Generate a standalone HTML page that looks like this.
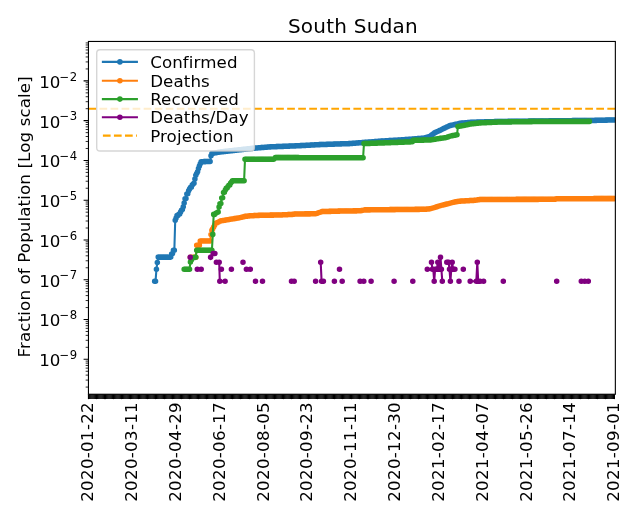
<!DOCTYPE html><html><head><meta charset="utf-8"><style>html,body{margin:0;padding:0;background:#fff;width:640px;height:520px;overflow:hidden}svg{display:block}text{font-family:"DejaVu Sans","Liberation Sans",sans-serif}</style></head><body><svg width="640" height="520" viewBox="0 0 640 520"><defs><clipPath id="c"><rect x="88.45" y="41.46" width="526.9" height="352.79"/></clipPath></defs><rect width="640" height="520" fill="#fff"/><g clip-path="url(#c)"><path d="M154.65 281.3 155.54 281.3 156.44 269.2 157.33 262.5 158.23 257.1 159.12 257.1 160.02 257.1 160.91 257.1 161.8 257.1 162.7 257.1 163.59 257.1 164.49 257.1 165.38 257.1 166.28 257.1 167.17 257.1 168.07 257.1 168.96 257.1 169.86 257.1 170.75 257.1 171.64 254 172.54 253.5 173.43 250.3 174.33 250.3 175.22 220.3 176.12 218 177.01 215.6 177.91 215.4 178.8 214.2 179.7 214 180.59 212 181.48 210.2 182.38 209.5 183.27 206.8 184.17 203 185.06 198.7 185.96 198.5 186.85 194 187.75 193.8 188.64 190.7 189.54 189 190.43 187.5 191.33 187.3 192.22 185 193.11 184 194.01 183.3 194.9 179 195.8 175.2 196.69 173.5 197.59 171.8 198.48 168.5 199.38 166 200.27 163.7 201.17 161.7 202.06 161.68 202.95 161.66 203.85 161.64 204.74 161.62 205.64 161.6 206.53 161.58 207.43 161.56 208.32 161.54 209.22 161.52 210.11 161.5 211.01 155.8 211.9 153.5 212.79 153.33 213.69 153.17 214.58 153 215.48 152.83 216.37 152.67 217.27 152.5 218.16 152.33 219.06 152.17 219.95 152 220.85 151.9 221.74 151.8 222.64 151.7 223.53 151.6 224.42 151.5 225.32 151.4 226.21 151.3 227.11 151.2 228 151.1 228.9 151 229.79 150.9 230.69 150.8 231.58 150.7 232.48 150.6 233.37 150.5 234.26 150.4 235.16 150.3 236.05 150.2 236.95 150.1 237.84 150 238.74 149.9 239.63 149.8 240.53 149.7 241.42 149.6 242.32 149.5 243.21 149.4 244.1 149.3 245 149.2 245.89 149.1 246.79 149 247.68 148.9 248.58 148.8 249.47 148.7 250.37 148.6 251.26 148.5 252.16 148.4 253.05 148.3 253.94 148.2 254.84 148.13 255.73 148.06 256.63 147.98 257.52 147.91 258.42 147.84 259.31 147.77 260.21 147.69 261.1 147.62 262 147.55 262.89 147.48 263.79 147.41 264.68 147.33 265.57 147.26 266.47 147.19 267.36 147.12 268.26 147.04 269.15 146.97 270.05 146.9 270.94 146.86 271.84 146.83 272.73 146.79 273.63 146.75 274.52 146.72 275.41 146.68 276.31 146.65 277.2 146.61 278.1 146.57 278.99 146.54 279.89 146.5 280.78 146.46 281.68 146.43 282.57 146.39 283.47 146.35 284.36 146.32 285.25 146.28 286.15 146.25 287.04 146.21 287.94 146.17 288.83 146.14 289.73 146.1 290.62 146.06 291.52 146.03 292.41 145.99 293.31 145.95 294.2 145.92 295.09 145.88 295.99 145.85 296.88 145.81 297.78 145.77 298.67 145.74 299.57 145.7 300.46 145.65 301.36 145.6 302.25 145.56 303.15 145.51 304.04 145.46 304.94 145.41 305.83 145.37 306.72 145.32 307.62 145.27 308.51 145.22 309.41 145.17 310.3 145.13 311.2 145.08 312.09 145.03 312.99 144.98 313.88 144.93 314.78 144.89 315.67 144.84 316.56 144.79 317.46 144.74 318.35 144.7 319.25 144.65 320.14 144.6 321.04 144.57 321.93 144.54 322.83 144.51 323.72 144.48 324.62 144.45 325.51 144.42 326.4 144.39 327.3 144.36 328.19 144.33 329.09 144.3 329.98 144.27 330.88 144.24 331.77 144.21 332.67 144.18 333.56 144.15 334.46 144.12 335.35 144.08 336.25 144.05 337.14 144.02 338.03 143.99 338.93 143.96 339.82 143.93 340.72 143.9 341.61 143.87 342.51 143.84 343.4 143.81 344.3 143.78 345.19 143.75 346.09 143.72 346.98 143.69 347.87 143.66 348.77 143.63 349.66 143.6 350.56 143.53 351.45 143.46 352.35 143.39 353.24 143.32 354.14 143.25 355.03 143.18 355.93 143.11 356.82 143.04 357.71 142.96 358.61 142.89 359.5 142.82 360.4 142.75 361.29 142.68 362.19 142.61 363.08 142.54 363.98 142.47 364.87 142.4 365.77 142.33 366.66 142.26 367.55 142.19 368.45 142.12 369.34 142.05 370.24 141.98 371.13 141.91 372.03 141.84 372.92 141.76 373.82 141.69 374.71 141.62 375.61 141.55 376.5 141.48 377.4 141.41 378.29 141.34 379.18 141.27 380.08 141.2 380.97 141.15 381.87 141.09 382.76 141.04 383.66 140.98 384.55 140.93 385.45 140.87 386.34 140.82 387.24 140.76 388.13 140.71 389.02 140.65 389.92 140.6 390.81 140.55 391.71 140.49 392.6 140.44 393.5 140.38 394.39 140.33 395.29 140.27 396.18 140.22 397.08 140.16 397.97 140.11 398.86 140.05 399.76 140 400.65 139.94 401.55 139.87 402.44 139.81 403.34 139.74 404.23 139.68 405.13 139.61 406.02 139.55 406.92 139.49 407.81 139.42 408.71 139.36 409.6 139.29 410.49 139.23 411.39 139.16 412.28 139.1 413.18 139.02 414.07 138.95 414.97 138.87 415.86 138.79 416.76 138.72 417.65 138.64 418.55 138.56 419.44 138.48 420.33 138.41 421.23 138.33 422.12 138.25 423.02 138.18 423.91 138.1 424.81 137.84 425.7 137.59 426.6 137.33 427.49 137.07 428.39 136.81 429.28 136.56 430.17 136.3 431.07 135.6 431.96 134.9 432.86 134.2 433.75 133.5 434.65 132.8 435.54 132.4 436.44 132 437.33 131.6 438.23 131.2 439.12 130.8 440.01 130.4 440.91 129.95 441.8 129.5 442.7 129.05 443.59 128.6 444.49 128.15 445.38 127.7 446.28 127.28 447.17 126.86 448.07 126.44 448.96 126.02 449.86 125.6 450.75 125.4 451.64 125.2 452.54 125 453.43 124.8 454.33 124.6 455.22 124.4 456.12 124.18 457.01 123.96 457.91 123.74 458.8 123.52 459.7 123.3 460.59 123.22 461.48 123.15 462.38 123.08 463.27 123 464.17 122.93 465.06 122.85 465.96 122.78 466.85 122.7 467.75 122.62 468.64 122.55 469.54 122.48 470.43 122.4 471.32 122.36 472.22 122.33 473.11 122.29 474.01 122.25 474.9 122.22 475.8 122.18 476.69 122.15 477.59 122.11 478.48 122.07 479.38 122.04 480.27 122 481.16 121.98 482.06 121.95 482.95 121.93 483.85 121.91 484.74 121.89 485.64 121.86 486.53 121.84 487.43 121.82 488.32 121.8 489.22 121.77 490.11 121.75 491.01 121.73 491.9 121.7 492.79 121.68 493.69 121.66 494.58 121.64 495.48 121.61 496.37 121.59 497.27 121.57 498.16 121.55 499.06 121.52 499.95 121.5 500.85 121.49 501.74 121.48 502.63 121.47 503.53 121.46 504.42 121.44 505.32 121.43 506.21 121.42 507.11 121.41 508 121.4 508.9 121.39 509.79 121.38 510.69 121.37 511.58 121.36 512.47 121.34 513.37 121.33 514.26 121.32 515.16 121.31 516.05 121.3 516.95 121.29 517.84 121.28 518.74 121.27 519.63 121.26 520.53 121.24 521.42 121.23 522.32 121.22 523.21 121.21 524.1 121.2 525 121.19 525.89 121.18 526.79 121.17 527.68 121.16 528.58 121.14 529.47 121.13 530.37 121.12 531.26 121.11 532.16 121.1 533.05 121.09 533.94 121.08 534.84 121.07 535.73 121.06 536.63 121.04 537.52 121.03 538.42 121.02 539.31 121.01 540.21 121 541.1 120.99 542 120.98 542.89 120.97 543.78 120.96 544.68 120.95 545.57 120.94 546.47 120.93 547.36 120.92 548.26 120.91 549.15 120.9 550.05 120.89 550.94 120.88 551.84 120.87 552.73 120.86 553.62 120.85 554.52 120.84 555.41 120.83 556.31 120.82 557.2 120.81 558.1 120.8 558.99 120.79 559.89 120.78 560.78 120.77 561.68 120.76 562.57 120.75 563.47 120.74 564.36 120.73 565.25 120.72 566.15 120.71 567.04 120.7 567.94 120.7 568.83 120.69 569.73 120.68 570.62 120.67 571.52 120.66 572.41 120.65 573.31 120.64 574.2 120.63 575.09 120.62 575.99 120.61 576.88 120.6 577.78 120.59 578.67 120.58 579.57 120.57 580.46 120.56 581.36 120.55 582.25 120.54 583.15 120.53 584.04 120.52 584.93 120.51 585.83 120.5 586.72 120.49 587.62 120.48 588.51 120.47 589.41 120.46 590.3 120.45 591.2 120.44 592.09 120.43 592.99 120.42 593.88 120.41 594.77 120.4 595.67 120.38 596.56 120.36 597.46 120.33 598.35 120.31 599.25 120.29 600.14 120.27 601.04 120.25 601.93 120.23 602.83 120.2 603.72 120.18 604.62 120.16 605.51 120.14 606.4 120.12 607.3 120.1 608.19 120.07 609.09 120.05 609.98 120.03 610.88 120.01 611.77 119.99 612.67 119.97 613.56 119.94 614.46 119.92" fill="none" stroke="#1f77b4" stroke-width="2.08" stroke-linejoin="round" stroke-linecap="square"/><path d="M154.65 281.3h0M155.54 281.3h0M156.44 269.2h0M157.33 262.5h0M158.23 257.1h0M159.12 257.1h0M160.02 257.1h0M160.91 257.1h0M161.8 257.1h0M162.7 257.1h0M163.59 257.1h0M164.49 257.1h0M165.38 257.1h0M166.28 257.1h0M167.17 257.1h0M168.07 257.1h0M168.96 257.1h0M169.86 257.1h0M170.75 257.1h0M171.64 254h0M172.54 253.5h0M173.43 250.3h0M174.33 250.3h0M175.22 220.3h0M176.12 218h0M177.01 215.6h0M177.91 215.4h0M178.8 214.2h0M179.7 214h0M180.59 212h0M181.48 210.2h0M182.38 209.5h0M183.27 206.8h0M184.17 203h0M185.06 198.7h0M185.96 198.5h0M186.85 194h0M187.75 193.8h0M188.64 190.7h0M189.54 189h0M190.43 187.5h0M191.33 187.3h0M192.22 185h0M193.11 184h0M194.01 183.3h0M194.9 179h0M195.8 175.2h0M196.69 173.5h0M197.59 171.8h0M198.48 168.5h0M199.38 166h0M200.27 163.7h0M201.17 161.7h0M202.06 161.68h0M202.95 161.66h0M203.85 161.64h0M204.74 161.62h0M205.64 161.6h0M206.53 161.58h0M207.43 161.56h0M208.32 161.54h0M209.22 161.52h0M210.11 161.5h0M211.01 155.8h0M211.9 153.5h0M212.79 153.33h0M213.69 153.17h0M214.58 153h0M215.48 152.83h0M216.37 152.67h0M217.27 152.5h0M218.16 152.33h0M219.06 152.17h0M219.95 152h0M220.85 151.9h0M221.74 151.8h0M222.64 151.7h0M223.53 151.6h0M224.42 151.5h0M225.32 151.4h0M226.21 151.3h0M227.11 151.2h0M228 151.1h0M228.9 151h0M229.79 150.9h0M230.69 150.8h0M231.58 150.7h0M232.48 150.6h0M233.37 150.5h0M234.26 150.4h0M235.16 150.3h0M236.05 150.2h0M236.95 150.1h0M237.84 150h0M238.74 149.9h0M239.63 149.8h0M240.53 149.7h0M241.42 149.6h0M242.32 149.5h0M243.21 149.4h0M244.1 149.3h0M245 149.2h0M245.89 149.1h0M246.79 149h0M247.68 148.9h0M248.58 148.8h0M249.47 148.7h0M250.37 148.6h0M251.26 148.5h0M252.16 148.4h0M253.05 148.3h0M253.94 148.2h0M254.84 148.13h0M255.73 148.06h0M256.63 147.98h0M257.52 147.91h0M258.42 147.84h0M259.31 147.77h0M260.21 147.69h0M261.1 147.62h0M262 147.55h0M262.89 147.48h0M263.79 147.41h0M264.68 147.33h0M265.57 147.26h0M266.47 147.19h0M267.36 147.12h0M268.26 147.04h0M269.15 146.97h0M270.05 146.9h0M270.94 146.86h0M271.84 146.83h0M272.73 146.79h0M273.63 146.75h0M274.52 146.72h0M275.41 146.68h0M276.31 146.65h0M277.2 146.61h0M278.1 146.57h0M278.99 146.54h0M279.89 146.5h0M280.78 146.46h0M281.68 146.43h0M282.57 146.39h0M283.47 146.35h0M284.36 146.32h0M285.25 146.28h0M286.15 146.25h0M287.04 146.21h0M287.94 146.17h0M288.83 146.14h0M289.73 146.1h0M290.62 146.06h0M291.52 146.03h0M292.41 145.99h0M293.31 145.95h0M294.2 145.92h0M295.09 145.88h0M295.99 145.85h0M296.88 145.81h0M297.78 145.77h0M298.67 145.74h0M299.57 145.7h0M300.46 145.65h0M301.36 145.6h0M302.25 145.56h0M303.15 145.51h0M304.04 145.46h0M304.94 145.41h0M305.83 145.37h0M306.72 145.32h0M307.62 145.27h0M308.51 145.22h0M309.41 145.17h0M310.3 145.13h0M311.2 145.08h0M312.09 145.03h0M312.99 144.98h0M313.88 144.93h0M314.78 144.89h0M315.67 144.84h0M316.56 144.79h0M317.46 144.74h0M318.35 144.7h0M319.25 144.65h0M320.14 144.6h0M321.04 144.57h0M321.93 144.54h0M322.83 144.51h0M323.72 144.48h0M324.62 144.45h0M325.51 144.42h0M326.4 144.39h0M327.3 144.36h0M328.19 144.33h0M329.09 144.3h0M329.98 144.27h0M330.88 144.24h0M331.77 144.21h0M332.67 144.18h0M333.56 144.15h0M334.46 144.12h0M335.35 144.08h0M336.25 144.05h0M337.14 144.02h0M338.03 143.99h0M338.93 143.96h0M339.82 143.93h0M340.72 143.9h0M341.61 143.87h0M342.51 143.84h0M343.4 143.81h0M344.3 143.78h0M345.19 143.75h0M346.09 143.72h0M346.98 143.69h0M347.87 143.66h0M348.77 143.63h0M349.66 143.6h0M350.56 143.53h0M351.45 143.46h0M352.35 143.39h0M353.24 143.32h0M354.14 143.25h0M355.03 143.18h0M355.93 143.11h0M356.82 143.04h0M357.71 142.96h0M358.61 142.89h0M359.5 142.82h0M360.4 142.75h0M361.29 142.68h0M362.19 142.61h0M363.08 142.54h0M363.98 142.47h0M364.87 142.4h0M365.77 142.33h0M366.66 142.26h0M367.55 142.19h0M368.45 142.12h0M369.34 142.05h0M370.24 141.98h0M371.13 141.91h0M372.03 141.84h0M372.92 141.76h0M373.82 141.69h0M374.71 141.62h0M375.61 141.55h0M376.5 141.48h0M377.4 141.41h0M378.29 141.34h0M379.18 141.27h0M380.08 141.2h0M380.97 141.15h0M381.87 141.09h0M382.76 141.04h0M383.66 140.98h0M384.55 140.93h0M385.45 140.87h0M386.34 140.82h0M387.24 140.76h0M388.13 140.71h0M389.02 140.65h0M389.92 140.6h0M390.81 140.55h0M391.71 140.49h0M392.6 140.44h0M393.5 140.38h0M394.39 140.33h0M395.29 140.27h0M396.18 140.22h0M397.08 140.16h0M397.97 140.11h0M398.86 140.05h0M399.76 140h0M400.65 139.94h0M401.55 139.87h0M402.44 139.81h0M403.34 139.74h0M404.23 139.68h0M405.13 139.61h0M406.02 139.55h0M406.92 139.49h0M407.81 139.42h0M408.71 139.36h0M409.6 139.29h0M410.49 139.23h0M411.39 139.16h0M412.28 139.1h0M413.18 139.02h0M414.07 138.95h0M414.97 138.87h0M415.86 138.79h0M416.76 138.72h0M417.65 138.64h0M418.55 138.56h0M419.44 138.48h0M420.33 138.41h0M421.23 138.33h0M422.12 138.25h0M423.02 138.18h0M423.91 138.1h0M424.81 137.84h0M425.7 137.59h0M426.6 137.33h0M427.49 137.07h0M428.39 136.81h0M429.28 136.56h0M430.17 136.3h0M431.07 135.6h0M431.96 134.9h0M432.86 134.2h0M433.75 133.5h0M434.65 132.8h0M435.54 132.4h0M436.44 132h0M437.33 131.6h0M438.23 131.2h0M439.12 130.8h0M440.01 130.4h0M440.91 129.95h0M441.8 129.5h0M442.7 129.05h0M443.59 128.6h0M444.49 128.15h0M445.38 127.7h0M446.28 127.28h0M447.17 126.86h0M448.07 126.44h0M448.96 126.02h0M449.86 125.6h0M450.75 125.4h0M451.64 125.2h0M452.54 125h0M453.43 124.8h0M454.33 124.6h0M455.22 124.4h0M456.12 124.18h0M457.01 123.96h0M457.91 123.74h0M458.8 123.52h0M459.7 123.3h0M460.59 123.22h0M461.48 123.15h0M462.38 123.08h0M463.27 123h0M464.17 122.93h0M465.06 122.85h0M465.96 122.78h0M466.85 122.7h0M467.75 122.62h0M468.64 122.55h0M469.54 122.48h0M470.43 122.4h0M471.32 122.36h0M472.22 122.33h0M473.11 122.29h0M474.01 122.25h0M474.9 122.22h0M475.8 122.18h0M476.69 122.15h0M477.59 122.11h0M478.48 122.07h0M479.38 122.04h0M480.27 122h0M481.16 121.98h0M482.06 121.95h0M482.95 121.93h0M483.85 121.91h0M484.74 121.89h0M485.64 121.86h0M486.53 121.84h0M487.43 121.82h0M488.32 121.8h0M489.22 121.77h0M490.11 121.75h0M491.01 121.73h0M491.9 121.7h0M492.79 121.68h0M493.69 121.66h0M494.58 121.64h0M495.48 121.61h0M496.37 121.59h0M497.27 121.57h0M498.16 121.55h0M499.06 121.52h0M499.95 121.5h0M500.85 121.49h0M501.74 121.48h0M502.63 121.47h0M503.53 121.46h0M504.42 121.44h0M505.32 121.43h0M506.21 121.42h0M507.11 121.41h0M508 121.4h0M508.9 121.39h0M509.79 121.38h0M510.69 121.37h0M511.58 121.36h0M512.47 121.34h0M513.37 121.33h0M514.26 121.32h0M515.16 121.31h0M516.05 121.3h0M516.95 121.29h0M517.84 121.28h0M518.74 121.27h0M519.63 121.26h0M520.53 121.24h0M521.42 121.23h0M522.32 121.22h0M523.21 121.21h0M524.1 121.2h0M525 121.19h0M525.89 121.18h0M526.79 121.17h0M527.68 121.16h0M528.58 121.14h0M529.47 121.13h0M530.37 121.12h0M531.26 121.11h0M532.16 121.1h0M533.05 121.09h0M533.94 121.08h0M534.84 121.07h0M535.73 121.06h0M536.63 121.04h0M537.52 121.03h0M538.42 121.02h0M539.31 121.01h0M540.21 121h0M541.1 120.99h0M542 120.98h0M542.89 120.97h0M543.78 120.96h0M544.68 120.95h0M545.57 120.94h0M546.47 120.93h0M547.36 120.92h0M548.26 120.91h0M549.15 120.9h0M550.05 120.89h0M550.94 120.88h0M551.84 120.87h0M552.73 120.86h0M553.62 120.85h0M554.52 120.84h0M555.41 120.83h0M556.31 120.82h0M557.2 120.81h0M558.1 120.8h0M558.99 120.79h0M559.89 120.78h0M560.78 120.77h0M561.68 120.76h0M562.57 120.75h0M563.47 120.74h0M564.36 120.73h0M565.25 120.72h0M566.15 120.71h0M567.04 120.7h0M567.94 120.7h0M568.83 120.69h0M569.73 120.68h0M570.62 120.67h0M571.52 120.66h0M572.41 120.65h0M573.31 120.64h0M574.2 120.63h0M575.09 120.62h0M575.99 120.61h0M576.88 120.6h0M577.78 120.59h0M578.67 120.58h0M579.57 120.57h0M580.46 120.56h0M581.36 120.55h0M582.25 120.54h0M583.15 120.53h0M584.04 120.52h0M584.93 120.51h0M585.83 120.5h0M586.72 120.49h0M587.62 120.48h0M588.51 120.47h0M589.41 120.46h0M590.3 120.45h0M591.2 120.44h0M592.09 120.43h0M592.99 120.42h0M593.88 120.41h0M594.77 120.4h0M595.67 120.38h0M596.56 120.36h0M597.46 120.33h0M598.35 120.31h0M599.25 120.29h0M600.14 120.27h0M601.04 120.25h0M601.93 120.23h0M602.83 120.2h0M603.72 120.18h0M604.62 120.16h0M605.51 120.14h0M606.4 120.12h0M607.3 120.1h0M608.19 120.07h0M609.09 120.05h0M609.98 120.03h0M610.88 120.01h0M611.77 119.99h0M612.67 119.97h0M613.56 119.94h0M614.46 119.92h0" fill="none" stroke="#1f77b4" stroke-width="5.56" stroke-linecap="round"/><path d="M190.43 257.2 191.33 257.2 192.22 257.2 193.11 257.2 194.01 257.2 194.9 257.2 195.8 257.2 196.69 245.2 197.59 245.2 198.48 245.2 199.38 245.2 200.27 241 201.17 241 202.06 241 202.95 241 203.85 241 204.74 241 205.64 241 206.53 241 207.43 241 208.32 241 209.22 241 210.11 241 211.01 234.6 211.9 230.4 212.79 228.68 213.69 226.95 214.58 225.22 215.48 223.5 216.37 223.07 217.27 222.63 218.16 222.2 219.06 221.77 219.95 221.33 220.85 220.9 221.74 220.75 222.64 220.59 223.53 220.44 224.42 220.28 225.32 220.13 226.21 219.97 227.11 219.82 228 219.66 228.9 219.51 229.79 219.35 230.69 219.2 231.58 219.06 232.48 218.92 233.37 218.78 234.26 218.64 235.16 218.5 236.05 218.36 236.95 218.22 237.84 218.08 238.74 217.94 239.63 217.8 240.53 217.57 241.42 217.33 242.32 217.1 243.21 216.87 244.1 216.63 245 216.4 245.89 216.3 246.79 216.2 247.68 216.1 248.58 216 249.47 215.9 250.37 215.8 251.26 215.75 252.16 215.71 253.05 215.66 253.94 215.62 254.84 215.57 255.73 215.53 256.63 215.48 257.52 215.44 258.42 215.39 259.31 215.35 260.21 215.3 261.1 215.29 262 215.27 262.89 215.26 263.79 215.25 264.68 215.23 265.57 215.22 266.47 215.2 267.36 215.19 268.26 215.18 269.15 215.16 270.05 215.15 270.94 215.14 271.84 215.12 272.73 215.11 273.63 215.1 274.52 215.08 275.41 215.07 276.31 215.05 277.2 215.04 278.1 215.03 278.99 215.01 279.89 215 280.78 214.96 281.68 214.91 282.57 214.87 283.47 214.83 284.36 214.79 285.25 214.74 286.15 214.7 287.04 214.66 287.94 214.61 288.83 214.57 289.73 214.53 290.62 214.49 291.52 214.44 292.41 214.4 293.31 214.27 294.2 214.13 295.09 214 295.99 213.99 296.88 213.98 297.78 213.97 298.67 213.97 299.57 213.96 300.46 213.95 301.36 213.94 302.25 213.93 303.15 213.92 304.04 213.91 304.94 213.9 305.83 213.9 306.72 213.89 307.62 213.88 308.51 213.87 309.41 213.86 310.3 213.85 311.2 213.84 312.09 213.83 312.99 213.83 313.88 213.82 314.78 213.81 315.67 213.8 316.56 213.49 317.46 213.17 318.35 212.86 319.25 212.54 320.14 212.23 321.04 211.91 321.93 211.6 322.83 211.58 323.72 211.55 324.62 211.52 325.51 211.5 326.4 211.47 327.3 211.45 328.19 211.43 329.09 211.4 329.98 211.37 330.88 211.35 331.77 211.32 332.67 211.3 333.56 211.27 334.46 211.25 335.35 211.22 336.25 211.2 337.14 211.17 338.03 211.15 338.93 211.12 339.82 211.1 340.72 211.09 341.61 211.07 342.51 211.06 343.4 211.05 344.3 211.03 345.19 211.02 346.09 211.01 346.98 211 347.87 210.98 348.77 210.97 349.66 210.96 350.56 210.94 351.45 210.93 352.35 210.92 353.24 210.9 354.14 210.89 355.03 210.88 355.93 210.87 356.82 210.85 357.71 210.84 358.61 210.83 359.5 210.81 360.4 210.8 361.29 210.62 362.19 210.44 363.08 210.26 363.98 210.08 364.87 209.9 365.77 209.89 366.66 209.88 367.55 209.87 368.45 209.86 369.34 209.86 370.24 209.85 371.13 209.84 372.03 209.83 372.92 209.82 373.82 209.81 374.71 209.8 375.61 209.79 376.5 209.78 377.4 209.77 378.29 209.77 379.18 209.76 380.08 209.75 380.97 209.74 381.87 209.73 382.76 209.72 383.66 209.71 384.55 209.7 385.45 209.69 386.34 209.69 387.24 209.68 388.13 209.67 389.02 209.66 389.92 209.65 390.81 209.64 391.71 209.63 392.6 209.62 393.5 209.61 394.39 209.6 395.29 209.6 396.18 209.59 397.08 209.58 397.97 209.57 398.86 209.56 399.76 209.55 400.65 209.54 401.55 209.53 402.44 209.52 403.34 209.51 404.23 209.51 405.13 209.5 406.02 209.49 406.92 209.48 407.81 209.47 408.71 209.46 409.6 209.45 410.49 209.44 411.39 209.43 412.28 209.43 413.18 209.42 414.07 209.41 414.97 209.4 415.86 209.39 416.76 209.38 417.65 209.37 418.55 209.36 419.44 209.35 420.33 209.34 421.23 209.34 422.12 209.33 423.02 209.32 423.91 209.31 424.81 209.3 425.7 209.22 426.6 209.13 427.49 209.05 428.39 208.97 429.28 208.88 430.17 208.8 431.07 208.53 431.96 208.25 432.86 207.98 433.75 207.71 434.65 207.44 435.54 207.16 436.44 206.89 437.33 206.62 438.23 206.35 439.12 206.07 440.01 205.8 440.91 205.56 441.8 205.33 442.7 205.09 443.59 204.85 444.49 204.62 445.38 204.38 446.28 204.15 447.17 203.91 448.07 203.67 448.96 203.44 449.86 203.2 450.75 202.98 451.64 202.77 452.54 202.55 453.43 202.33 454.33 202.12 455.22 201.9 456.12 201.76 457.01 201.62 457.91 201.48 458.8 201.34 459.7 201.2 460.59 201.15 461.48 201.09 462.38 201.04 463.27 200.99 464.17 200.94 465.06 200.88 465.96 200.83 466.85 200.78 467.75 200.72 468.64 200.67 469.54 200.62 470.43 200.56 471.32 200.51 472.22 200.46 473.11 200.41 474.01 200.35 474.9 200.3 475.8 200.17 476.69 200.03 477.59 199.9 478.48 199.77 479.38 199.63 480.27 199.5 481.16 199.5 482.06 199.5 482.95 199.49 483.85 199.49 484.74 199.49 485.64 199.49 486.53 199.48 487.43 199.48 488.32 199.48 489.22 199.48 490.11 199.47 491.01 199.47 491.9 199.47 492.79 199.47 493.69 199.46 494.58 199.46 495.48 199.46 496.37 199.46 497.27 199.45 498.16 199.45 499.06 199.45 499.95 199.45 500.85 199.45 501.74 199.44 502.63 199.44 503.53 199.44 504.42 199.44 505.32 199.43 506.21 199.43 507.11 199.43 508 199.43 508.9 199.42 509.79 199.42 510.69 199.42 511.58 199.42 512.47 199.41 513.37 199.41 514.26 199.41 515.16 199.41 516.05 199.4 516.95 199.4 517.84 199.4 518.74 199.4 519.63 199.4 520.53 199.39 521.42 199.39 522.32 199.39 523.21 199.39 524.1 199.38 525 199.38 525.89 199.38 526.79 199.38 527.68 199.37 528.58 199.37 529.47 199.37 530.37 199.37 531.26 199.36 532.16 199.36 533.05 199.36 533.94 199.36 534.84 199.35 535.73 199.35 536.63 199.35 537.52 199.35 538.42 199.35 539.31 199.34 540.21 199.34 541.1 199.34 542 199.34 542.89 199.33 543.78 199.33 544.68 199.33 545.57 199.33 546.47 199.32 547.36 199.32 548.26 199.32 549.15 199.32 550.05 199.31 550.94 199.31 551.84 199.31 552.73 199.31 553.62 199.3 554.52 199.3 555.41 199.3 556.31 198.75 557.2 198.75 558.1 198.75 558.99 198.74 559.89 198.74 560.78 198.74 561.68 198.74 562.57 198.73 563.47 198.73 564.36 198.73 565.25 198.73 566.15 198.73 567.04 198.72 567.94 198.72 568.83 198.72 569.73 198.72 570.62 198.71 571.52 198.71 572.41 198.71 573.31 198.71 574.2 198.7 575.09 198.7 575.99 198.7 576.88 198.7 577.78 198.7 578.67 198.69 579.57 198.69 580.46 198.69 581.36 198.69 582.25 198.68 583.15 198.68 584.04 198.68 584.93 198.68 585.83 198.68 586.72 198.67 587.62 198.67 588.51 198.67 589.41 198.67 590.3 198.66 591.2 198.66 592.09 198.66 592.99 198.66 593.88 198.65 594.77 198.65 595.67 198.65 596.56 198.65 597.46 198.65 598.35 198.64 599.25 198.64 600.14 198.64 601.04 198.64 601.93 198.63 602.83 198.63 603.72 198.63 604.62 198.63 605.51 198.62 606.4 198.62 607.3 198.62 608.19 198.62 609.09 198.62 609.98 198.61 610.88 198.61 611.77 198.61 612.67 198.61 613.56 198.6 614.46 198.6" fill="none" stroke="#ff7f0e" stroke-width="2.08" stroke-linejoin="round" stroke-linecap="square"/><path d="M190.43 257.2h0M191.33 257.2h0M192.22 257.2h0M193.11 257.2h0M194.01 257.2h0M194.9 257.2h0M195.8 257.2h0M196.69 245.2h0M197.59 245.2h0M198.48 245.2h0M199.38 245.2h0M200.27 241h0M201.17 241h0M202.06 241h0M202.95 241h0M203.85 241h0M204.74 241h0M205.64 241h0M206.53 241h0M207.43 241h0M208.32 241h0M209.22 241h0M210.11 241h0M211.01 234.6h0M211.9 230.4h0M212.79 228.68h0M213.69 226.95h0M214.58 225.22h0M215.48 223.5h0M216.37 223.07h0M217.27 222.63h0M218.16 222.2h0M219.06 221.77h0M219.95 221.33h0M220.85 220.9h0M221.74 220.75h0M222.64 220.59h0M223.53 220.44h0M224.42 220.28h0M225.32 220.13h0M226.21 219.97h0M227.11 219.82h0M228 219.66h0M228.9 219.51h0M229.79 219.35h0M230.69 219.2h0M231.58 219.06h0M232.48 218.92h0M233.37 218.78h0M234.26 218.64h0M235.16 218.5h0M236.05 218.36h0M236.95 218.22h0M237.84 218.08h0M238.74 217.94h0M239.63 217.8h0M240.53 217.57h0M241.42 217.33h0M242.32 217.1h0M243.21 216.87h0M244.1 216.63h0M245 216.4h0M245.89 216.3h0M246.79 216.2h0M247.68 216.1h0M248.58 216h0M249.47 215.9h0M250.37 215.8h0M251.26 215.75h0M252.16 215.71h0M253.05 215.66h0M253.94 215.62h0M254.84 215.57h0M255.73 215.53h0M256.63 215.48h0M257.52 215.44h0M258.42 215.39h0M259.31 215.35h0M260.21 215.3h0M261.1 215.29h0M262 215.27h0M262.89 215.26h0M263.79 215.25h0M264.68 215.23h0M265.57 215.22h0M266.47 215.2h0M267.36 215.19h0M268.26 215.18h0M269.15 215.16h0M270.05 215.15h0M270.94 215.14h0M271.84 215.12h0M272.73 215.11h0M273.63 215.1h0M274.52 215.08h0M275.41 215.07h0M276.31 215.05h0M277.2 215.04h0M278.1 215.03h0M278.99 215.01h0M279.89 215h0M280.78 214.96h0M281.68 214.91h0M282.57 214.87h0M283.47 214.83h0M284.36 214.79h0M285.25 214.74h0M286.15 214.7h0M287.04 214.66h0M287.94 214.61h0M288.83 214.57h0M289.73 214.53h0M290.62 214.49h0M291.52 214.44h0M292.41 214.4h0M293.31 214.27h0M294.2 214.13h0M295.09 214h0M295.99 213.99h0M296.88 213.98h0M297.78 213.97h0M298.67 213.97h0M299.57 213.96h0M300.46 213.95h0M301.36 213.94h0M302.25 213.93h0M303.15 213.92h0M304.04 213.91h0M304.94 213.9h0M305.83 213.9h0M306.72 213.89h0M307.62 213.88h0M308.51 213.87h0M309.41 213.86h0M310.3 213.85h0M311.2 213.84h0M312.09 213.83h0M312.99 213.83h0M313.88 213.82h0M314.78 213.81h0M315.67 213.8h0M316.56 213.49h0M317.46 213.17h0M318.35 212.86h0M319.25 212.54h0M320.14 212.23h0M321.04 211.91h0M321.93 211.6h0M322.83 211.58h0M323.72 211.55h0M324.62 211.52h0M325.51 211.5h0M326.4 211.47h0M327.3 211.45h0M328.19 211.43h0M329.09 211.4h0M329.98 211.37h0M330.88 211.35h0M331.77 211.32h0M332.67 211.3h0M333.56 211.27h0M334.46 211.25h0M335.35 211.22h0M336.25 211.2h0M337.14 211.17h0M338.03 211.15h0M338.93 211.12h0M339.82 211.1h0M340.72 211.09h0M341.61 211.07h0M342.51 211.06h0M343.4 211.05h0M344.3 211.03h0M345.19 211.02h0M346.09 211.01h0M346.98 211h0M347.87 210.98h0M348.77 210.97h0M349.66 210.96h0M350.56 210.94h0M351.45 210.93h0M352.35 210.92h0M353.24 210.9h0M354.14 210.89h0M355.03 210.88h0M355.93 210.87h0M356.82 210.85h0M357.71 210.84h0M358.61 210.83h0M359.5 210.81h0M360.4 210.8h0M361.29 210.62h0M362.19 210.44h0M363.08 210.26h0M363.98 210.08h0M364.87 209.9h0M365.77 209.89h0M366.66 209.88h0M367.55 209.87h0M368.45 209.86h0M369.34 209.86h0M370.24 209.85h0M371.13 209.84h0M372.03 209.83h0M372.92 209.82h0M373.82 209.81h0M374.71 209.8h0M375.61 209.79h0M376.5 209.78h0M377.4 209.77h0M378.29 209.77h0M379.18 209.76h0M380.08 209.75h0M380.97 209.74h0M381.87 209.73h0M382.76 209.72h0M383.66 209.71h0M384.55 209.7h0M385.45 209.69h0M386.34 209.69h0M387.24 209.68h0M388.13 209.67h0M389.02 209.66h0M389.92 209.65h0M390.81 209.64h0M391.71 209.63h0M392.6 209.62h0M393.5 209.61h0M394.39 209.6h0M395.29 209.6h0M396.18 209.59h0M397.08 209.58h0M397.97 209.57h0M398.86 209.56h0M399.76 209.55h0M400.65 209.54h0M401.55 209.53h0M402.44 209.52h0M403.34 209.51h0M404.23 209.51h0M405.13 209.5h0M406.02 209.49h0M406.92 209.48h0M407.81 209.47h0M408.71 209.46h0M409.6 209.45h0M410.49 209.44h0M411.39 209.43h0M412.28 209.43h0M413.18 209.42h0M414.07 209.41h0M414.97 209.4h0M415.86 209.39h0M416.76 209.38h0M417.65 209.37h0M418.55 209.36h0M419.44 209.35h0M420.33 209.34h0M421.23 209.34h0M422.12 209.33h0M423.02 209.32h0M423.91 209.31h0M424.81 209.3h0M425.7 209.22h0M426.6 209.13h0M427.49 209.05h0M428.39 208.97h0M429.28 208.88h0M430.17 208.8h0M431.07 208.53h0M431.96 208.25h0M432.86 207.98h0M433.75 207.71h0M434.65 207.44h0M435.54 207.16h0M436.44 206.89h0M437.33 206.62h0M438.23 206.35h0M439.12 206.07h0M440.01 205.8h0M440.91 205.56h0M441.8 205.33h0M442.7 205.09h0M443.59 204.85h0M444.49 204.62h0M445.38 204.38h0M446.28 204.15h0M447.17 203.91h0M448.07 203.67h0M448.96 203.44h0M449.86 203.2h0M450.75 202.98h0M451.64 202.77h0M452.54 202.55h0M453.43 202.33h0M454.33 202.12h0M455.22 201.9h0M456.12 201.76h0M457.01 201.62h0M457.91 201.48h0M458.8 201.34h0M459.7 201.2h0M460.59 201.15h0M461.48 201.09h0M462.38 201.04h0M463.27 200.99h0M464.17 200.94h0M465.06 200.88h0M465.96 200.83h0M466.85 200.78h0M467.75 200.72h0M468.64 200.67h0M469.54 200.62h0M470.43 200.56h0M471.32 200.51h0M472.22 200.46h0M473.11 200.41h0M474.01 200.35h0M474.9 200.3h0M475.8 200.17h0M476.69 200.03h0M477.59 199.9h0M478.48 199.77h0M479.38 199.63h0M480.27 199.5h0M481.16 199.5h0M482.06 199.5h0M482.95 199.49h0M483.85 199.49h0M484.74 199.49h0M485.64 199.49h0M486.53 199.48h0M487.43 199.48h0M488.32 199.48h0M489.22 199.48h0M490.11 199.47h0M491.01 199.47h0M491.9 199.47h0M492.79 199.47h0M493.69 199.46h0M494.58 199.46h0M495.48 199.46h0M496.37 199.46h0M497.27 199.45h0M498.16 199.45h0M499.06 199.45h0M499.95 199.45h0M500.85 199.45h0M501.74 199.44h0M502.63 199.44h0M503.53 199.44h0M504.42 199.44h0M505.32 199.43h0M506.21 199.43h0M507.11 199.43h0M508 199.43h0M508.9 199.42h0M509.79 199.42h0M510.69 199.42h0M511.58 199.42h0M512.47 199.41h0M513.37 199.41h0M514.26 199.41h0M515.16 199.41h0M516.05 199.4h0M516.95 199.4h0M517.84 199.4h0M518.74 199.4h0M519.63 199.4h0M520.53 199.39h0M521.42 199.39h0M522.32 199.39h0M523.21 199.39h0M524.1 199.38h0M525 199.38h0M525.89 199.38h0M526.79 199.38h0M527.68 199.37h0M528.58 199.37h0M529.47 199.37h0M530.37 199.37h0M531.26 199.36h0M532.16 199.36h0M533.05 199.36h0M533.94 199.36h0M534.84 199.35h0M535.73 199.35h0M536.63 199.35h0M537.52 199.35h0M538.42 199.35h0M539.31 199.34h0M540.21 199.34h0M541.1 199.34h0M542 199.34h0M542.89 199.33h0M543.78 199.33h0M544.68 199.33h0M545.57 199.33h0M546.47 199.32h0M547.36 199.32h0M548.26 199.32h0M549.15 199.32h0M550.05 199.31h0M550.94 199.31h0M551.84 199.31h0M552.73 199.31h0M553.62 199.3h0M554.52 199.3h0M555.41 199.3h0M556.31 198.75h0M557.2 198.75h0M558.1 198.75h0M558.99 198.74h0M559.89 198.74h0M560.78 198.74h0M561.68 198.74h0M562.57 198.73h0M563.47 198.73h0M564.36 198.73h0M565.25 198.73h0M566.15 198.73h0M567.04 198.72h0M567.94 198.72h0M568.83 198.72h0M569.73 198.72h0M570.62 198.71h0M571.52 198.71h0M572.41 198.71h0M573.31 198.71h0M574.2 198.7h0M575.09 198.7h0M575.99 198.7h0M576.88 198.7h0M577.78 198.7h0M578.67 198.69h0M579.57 198.69h0M580.46 198.69h0M581.36 198.69h0M582.25 198.68h0M583.15 198.68h0M584.04 198.68h0M584.93 198.68h0M585.83 198.68h0M586.72 198.67h0M587.62 198.67h0M588.51 198.67h0M589.41 198.67h0M590.3 198.66h0M591.2 198.66h0M592.09 198.66h0M592.99 198.66h0M593.88 198.65h0M594.77 198.65h0M595.67 198.65h0M596.56 198.65h0M597.46 198.65h0M598.35 198.64h0M599.25 198.64h0M600.14 198.64h0M601.04 198.64h0M601.93 198.63h0M602.83 198.63h0M603.72 198.63h0M604.62 198.63h0M605.51 198.62h0M606.4 198.62h0M607.3 198.62h0M608.19 198.62h0M609.09 198.62h0M609.98 198.61h0M610.88 198.61h0M611.77 198.61h0M612.67 198.61h0M613.56 198.6h0M614.46 198.6h0" fill="none" stroke="#ff7f0e" stroke-width="5.56" stroke-linecap="round"/><path d="M184.17 269.2 185.06 269.2 185.96 269.2 186.85 269.2 187.75 269.2 188.64 269.2 189.54 269.2 190.43 262 191.33 260 192.22 258 193.11 257.8 194.01 257.6 194.9 257.4 195.8 257.2 196.69 250.2 197.59 250.2 198.48 250.2 199.38 250.2 200.27 250.2 201.17 250.2 202.06 250.2 202.95 250.2 203.85 250.2 204.74 250.2 205.64 250.2 206.53 250.2 207.43 250.2 208.32 250.2 209.22 250.2 210.11 250.2 211.01 250.2 211.9 250.2 212.79 234.4 213.69 214.4 214.58 214.4 215.48 213.5 216.37 213 217.27 212.5 218.16 212 219.06 207 219.95 203.8 220.85 203.6 221.74 198.1 222.64 197.8 223.53 192.5 224.42 192.3 225.32 190 226.21 188.2 227.11 188.1 228 186.5 228.9 185.2 229.79 185 230.69 183 231.58 182 232.48 180.8 233.37 180.8 234.26 180.8 235.16 180.8 236.05 180.8 236.95 180.8 237.84 180.8 238.74 180.8 239.63 180.8 240.53 180.8 241.42 180.8 242.32 180.8 243.21 180.8 244.1 180.8 245 159.3 245.89 159.3 246.79 159.3 247.68 159.3 248.58 159.3 249.47 159.3 250.37 159.3 251.26 159.3 252.16 159.3 253.05 159.3 253.94 159.3 254.84 159.3 255.73 159.3 256.63 159.3 257.52 159.3 258.42 159.3 259.31 159.3 260.21 159.3 261.1 159.3 262 159.3 262.89 159.3 263.79 159.3 264.68 159.3 265.57 159.3 266.47 159.3 267.36 159.3 268.26 159.3 269.15 159.3 270.05 159.3 270.94 159.3 271.84 159.3 272.73 159.3 273.63 159.3 274.52 158.45 275.41 157.6 276.31 157.6 277.2 157.6 278.1 157.61 278.99 157.61 279.89 157.61 280.78 157.61 281.68 157.61 282.57 157.62 283.47 157.62 284.36 157.62 285.25 157.62 286.15 157.62 287.04 157.63 287.94 157.63 288.83 157.63 289.73 157.63 290.62 157.63 291.52 157.64 292.41 157.64 293.31 157.64 294.2 157.64 295.09 157.64 295.99 157.65 296.88 157.65 297.78 157.65 298.67 157.65 299.57 157.66 300.46 157.66 301.36 157.66 302.25 157.66 303.15 157.66 304.04 157.67 304.94 157.67 305.83 157.67 306.72 157.67 307.62 157.67 308.51 157.68 309.41 157.68 310.3 157.68 311.2 157.68 312.09 157.68 312.99 157.69 313.88 157.69 314.78 157.69 315.67 157.69 316.56 157.69 317.46 157.7 318.35 157.7 319.25 157.7 320.14 157.7 321.04 157.7 321.93 157.71 322.83 157.71 323.72 157.71 324.62 157.71 325.51 157.71 326.4 157.72 327.3 157.72 328.19 157.72 329.09 157.72 329.98 157.72 330.88 157.73 331.77 157.73 332.67 157.73 333.56 157.73 334.46 157.73 335.35 157.74 336.25 157.74 337.14 157.74 338.03 157.74 338.93 157.74 339.82 157.75 340.72 157.75 341.61 157.75 342.51 157.75 343.4 157.76 344.3 157.76 345.19 157.76 346.09 157.76 346.98 157.76 347.87 157.77 348.77 157.77 349.66 157.77 350.56 157.77 351.45 157.77 352.35 157.78 353.24 157.78 354.14 157.78 355.03 157.78 355.93 157.78 356.82 157.79 357.71 157.79 358.61 157.79 359.5 157.79 360.4 157.79 361.29 157.8 362.19 157.8 363.08 157.8 363.98 143.6 364.87 143.57 365.77 143.53 366.66 143.5 367.55 143.47 368.45 143.44 369.34 143.41 370.24 143.37 371.13 143.34 372.03 143.31 372.92 143.28 373.82 143.24 374.71 143.21 375.61 143.18 376.5 143.14 377.4 143.11 378.29 143.08 379.18 143.05 380.08 143.01 380.97 142.98 381.87 142.95 382.76 142.92 383.66 142.88 384.55 142.85 385.45 142.82 386.34 142.79 387.24 142.75 388.13 142.72 389.02 142.69 389.92 142.66 390.81 142.62 391.71 142.59 392.6 142.56 393.5 142.53 394.39 142.5 395.29 142.46 396.18 142.43 397.08 142.4 397.97 142.37 398.86 142.33 399.76 142.3 400.65 142.26 401.55 142.23 402.44 142.19 403.34 142.16 404.23 142.12 405.13 142.09 406.02 142.05 406.92 142.01 407.81 141.98 408.71 141.94 409.6 141.91 410.49 141.87 411.39 141.84 412.28 141.8 413.18 140.3 414.07 140.28 414.97 140.27 415.86 140.25 416.76 140.24 417.65 140.22 418.55 140.21 419.44 140.19 420.33 140.17 421.23 140.16 422.12 140.14 423.02 140.13 423.91 140.11 424.81 140.09 425.7 140.08 426.6 140.06 427.49 140.05 428.39 140.03 429.28 140.02 430.17 140 431.07 139.85 431.96 139.71 432.86 139.56 433.75 139.42 434.65 139.27 435.54 139.13 436.44 138.98 437.33 138.84 438.23 138.69 439.12 138.55 440.01 138.4 440.91 138.28 441.8 138.17 442.7 138.05 443.59 137.93 444.49 137.82 445.38 137.7 446.28 137.43 447.17 137.16 448.07 136.89 448.96 136.61 449.86 136.34 450.75 136.07 451.64 135.8 452.54 135.63 453.43 135.47 454.33 135.3 455.22 135.13 456.12 134.97 457.01 134.8 457.91 126.5 458.8 126.34 459.7 126.17 460.59 126.01 461.48 125.85 462.38 125.69 463.27 125.53 464.17 125.36 465.06 125.2 465.96 125 466.85 124.8 467.75 124.6 468.64 124.4 469.54 124.2 470.43 124 471.32 123.9 472.22 123.8 473.11 123.7 474.01 123.6 474.9 123.5 475.8 123.4 476.69 123.3 477.59 123.2 478.48 123.1 479.38 123 480.27 122.9 481.16 122.86 482.06 122.82 482.95 122.78 483.85 122.74 484.74 122.7 485.64 122.65 486.53 122.61 487.43 122.57 488.32 122.53 489.22 122.49 490.11 122.45 491.01 122.41 491.9 122.37 492.79 122.33 493.69 122.29 494.58 122.25 495.48 122.2 496.37 122.16 497.27 122.12 498.16 122.08 499.06 122.04 499.95 122 500.85 121.99 501.74 121.98 502.63 121.97 503.53 121.96 504.42 121.94 505.32 121.93 506.21 121.92 507.11 121.91 508 121.9 508.9 121.89 509.79 121.88 510.69 121.87 511.58 121.86 512.47 121.84 513.37 121.83 514.26 121.82 515.16 121.81 516.05 121.8 516.95 121.79 517.84 121.78 518.74 121.77 519.63 121.76 520.53 121.74 521.42 121.73 522.32 121.72 523.21 121.71 524.1 121.7 525 121.69 525.89 121.68 526.79 121.67 527.68 121.66 528.58 121.64 529.47 121.63 530.37 121.62 531.26 121.61 532.16 121.6 533.05 121.59 533.94 121.58 534.84 121.57 535.73 121.56 536.63 121.54 537.52 121.53 538.42 121.52 539.31 121.51 540.21 121.5 541.1 121.5 542 121.5 542.89 121.49 543.78 121.49 544.68 121.49 545.57 121.49 546.47 121.49 547.36 121.49 548.26 121.48 549.15 121.48 550.05 121.48 550.94 121.48 551.84 121.48 552.73 121.47 553.62 121.47 554.52 121.47 555.41 121.47 556.31 121.47 557.2 121.47 558.1 121.46 558.99 121.46 559.89 121.46 560.78 121.46 561.68 121.46 562.57 121.45 563.47 121.45 564.36 121.45 565.25 121.45 566.15 121.45 567.04 121.45 567.94 121.44 568.83 121.44 569.73 121.44 570.62 121.44 571.52 121.44 572.41 121.43 573.31 121.43 574.2 121.43 575.09 121.43 575.99 121.43 576.88 121.43 577.78 121.42 578.67 121.42 579.57 121.42 580.46 121.42 581.36 121.42 582.25 121.41 583.15 121.41 584.04 121.41 584.93 121.41 585.83 121.41 586.72 121.41 587.62 121.4 588.51 121.4 589.41 121.4" fill="none" stroke="#2ca02c" stroke-width="2.08" stroke-linejoin="round" stroke-linecap="square"/><path d="M184.17 269.2h0M185.06 269.2h0M185.96 269.2h0M186.85 269.2h0M187.75 269.2h0M188.64 269.2h0M189.54 269.2h0M190.43 262h0M191.33 260h0M192.22 258h0M193.11 257.8h0M194.01 257.6h0M194.9 257.4h0M195.8 257.2h0M196.69 250.2h0M197.59 250.2h0M198.48 250.2h0M199.38 250.2h0M200.27 250.2h0M201.17 250.2h0M202.06 250.2h0M202.95 250.2h0M203.85 250.2h0M204.74 250.2h0M205.64 250.2h0M206.53 250.2h0M207.43 250.2h0M208.32 250.2h0M209.22 250.2h0M210.11 250.2h0M211.01 250.2h0M211.9 250.2h0M212.79 234.4h0M213.69 214.4h0M214.58 214.4h0M215.48 213.5h0M216.37 213h0M217.27 212.5h0M218.16 212h0M219.06 207h0M219.95 203.8h0M220.85 203.6h0M221.74 198.1h0M222.64 197.8h0M223.53 192.5h0M224.42 192.3h0M225.32 190h0M226.21 188.2h0M227.11 188.1h0M228 186.5h0M228.9 185.2h0M229.79 185h0M230.69 183h0M231.58 182h0M232.48 180.8h0M233.37 180.8h0M234.26 180.8h0M235.16 180.8h0M236.05 180.8h0M236.95 180.8h0M237.84 180.8h0M238.74 180.8h0M239.63 180.8h0M240.53 180.8h0M241.42 180.8h0M242.32 180.8h0M243.21 180.8h0M244.1 180.8h0M245 159.3h0M245.89 159.3h0M246.79 159.3h0M247.68 159.3h0M248.58 159.3h0M249.47 159.3h0M250.37 159.3h0M251.26 159.3h0M252.16 159.3h0M253.05 159.3h0M253.94 159.3h0M254.84 159.3h0M255.73 159.3h0M256.63 159.3h0M257.52 159.3h0M258.42 159.3h0M259.31 159.3h0M260.21 159.3h0M261.1 159.3h0M262 159.3h0M262.89 159.3h0M263.79 159.3h0M264.68 159.3h0M265.57 159.3h0M266.47 159.3h0M267.36 159.3h0M268.26 159.3h0M269.15 159.3h0M270.05 159.3h0M270.94 159.3h0M271.84 159.3h0M272.73 159.3h0M273.63 159.3h0M274.52 158.45h0M275.41 157.6h0M276.31 157.6h0M277.2 157.6h0M278.1 157.61h0M278.99 157.61h0M279.89 157.61h0M280.78 157.61h0M281.68 157.61h0M282.57 157.62h0M283.47 157.62h0M284.36 157.62h0M285.25 157.62h0M286.15 157.62h0M287.04 157.63h0M287.94 157.63h0M288.83 157.63h0M289.73 157.63h0M290.62 157.63h0M291.52 157.64h0M292.41 157.64h0M293.31 157.64h0M294.2 157.64h0M295.09 157.64h0M295.99 157.65h0M296.88 157.65h0M297.78 157.65h0M298.67 157.65h0M299.57 157.66h0M300.46 157.66h0M301.36 157.66h0M302.25 157.66h0M303.15 157.66h0M304.04 157.67h0M304.94 157.67h0M305.83 157.67h0M306.72 157.67h0M307.62 157.67h0M308.51 157.68h0M309.41 157.68h0M310.3 157.68h0M311.2 157.68h0M312.09 157.68h0M312.99 157.69h0M313.88 157.69h0M314.78 157.69h0M315.67 157.69h0M316.56 157.69h0M317.46 157.7h0M318.35 157.7h0M319.25 157.7h0M320.14 157.7h0M321.04 157.7h0M321.93 157.71h0M322.83 157.71h0M323.72 157.71h0M324.62 157.71h0M325.51 157.71h0M326.4 157.72h0M327.3 157.72h0M328.19 157.72h0M329.09 157.72h0M329.98 157.72h0M330.88 157.73h0M331.77 157.73h0M332.67 157.73h0M333.56 157.73h0M334.46 157.73h0M335.35 157.74h0M336.25 157.74h0M337.14 157.74h0M338.03 157.74h0M338.93 157.74h0M339.82 157.75h0M340.72 157.75h0M341.61 157.75h0M342.51 157.75h0M343.4 157.76h0M344.3 157.76h0M345.19 157.76h0M346.09 157.76h0M346.98 157.76h0M347.87 157.77h0M348.77 157.77h0M349.66 157.77h0M350.56 157.77h0M351.45 157.77h0M352.35 157.78h0M353.24 157.78h0M354.14 157.78h0M355.03 157.78h0M355.93 157.78h0M356.82 157.79h0M357.71 157.79h0M358.61 157.79h0M359.5 157.79h0M360.4 157.79h0M361.29 157.8h0M362.19 157.8h0M363.08 157.8h0M363.98 143.6h0M364.87 143.57h0M365.77 143.53h0M366.66 143.5h0M367.55 143.47h0M368.45 143.44h0M369.34 143.41h0M370.24 143.37h0M371.13 143.34h0M372.03 143.31h0M372.92 143.28h0M373.82 143.24h0M374.71 143.21h0M375.61 143.18h0M376.5 143.14h0M377.4 143.11h0M378.29 143.08h0M379.18 143.05h0M380.08 143.01h0M380.97 142.98h0M381.87 142.95h0M382.76 142.92h0M383.66 142.88h0M384.55 142.85h0M385.45 142.82h0M386.34 142.79h0M387.24 142.75h0M388.13 142.72h0M389.02 142.69h0M389.92 142.66h0M390.81 142.62h0M391.71 142.59h0M392.6 142.56h0M393.5 142.53h0M394.39 142.5h0M395.29 142.46h0M396.18 142.43h0M397.08 142.4h0M397.97 142.37h0M398.86 142.33h0M399.76 142.3h0M400.65 142.26h0M401.55 142.23h0M402.44 142.19h0M403.34 142.16h0M404.23 142.12h0M405.13 142.09h0M406.02 142.05h0M406.92 142.01h0M407.81 141.98h0M408.71 141.94h0M409.6 141.91h0M410.49 141.87h0M411.39 141.84h0M412.28 141.8h0M413.18 140.3h0M414.07 140.28h0M414.97 140.27h0M415.86 140.25h0M416.76 140.24h0M417.65 140.22h0M418.55 140.21h0M419.44 140.19h0M420.33 140.17h0M421.23 140.16h0M422.12 140.14h0M423.02 140.13h0M423.91 140.11h0M424.81 140.09h0M425.7 140.08h0M426.6 140.06h0M427.49 140.05h0M428.39 140.03h0M429.28 140.02h0M430.17 140h0M431.07 139.85h0M431.96 139.71h0M432.86 139.56h0M433.75 139.42h0M434.65 139.27h0M435.54 139.13h0M436.44 138.98h0M437.33 138.84h0M438.23 138.69h0M439.12 138.55h0M440.01 138.4h0M440.91 138.28h0M441.8 138.17h0M442.7 138.05h0M443.59 137.93h0M444.49 137.82h0M445.38 137.7h0M446.28 137.43h0M447.17 137.16h0M448.07 136.89h0M448.96 136.61h0M449.86 136.34h0M450.75 136.07h0M451.64 135.8h0M452.54 135.63h0M453.43 135.47h0M454.33 135.3h0M455.22 135.13h0M456.12 134.97h0M457.01 134.8h0M457.91 126.5h0M458.8 126.34h0M459.7 126.17h0M460.59 126.01h0M461.48 125.85h0M462.38 125.69h0M463.27 125.53h0M464.17 125.36h0M465.06 125.2h0M465.96 125h0M466.85 124.8h0M467.75 124.6h0M468.64 124.4h0M469.54 124.2h0M470.43 124h0M471.32 123.9h0M472.22 123.8h0M473.11 123.7h0M474.01 123.6h0M474.9 123.5h0M475.8 123.4h0M476.69 123.3h0M477.59 123.2h0M478.48 123.1h0M479.38 123h0M480.27 122.9h0M481.16 122.86h0M482.06 122.82h0M482.95 122.78h0M483.85 122.74h0M484.74 122.7h0M485.64 122.65h0M486.53 122.61h0M487.43 122.57h0M488.32 122.53h0M489.22 122.49h0M490.11 122.45h0M491.01 122.41h0M491.9 122.37h0M492.79 122.33h0M493.69 122.29h0M494.58 122.25h0M495.48 122.2h0M496.37 122.16h0M497.27 122.12h0M498.16 122.08h0M499.06 122.04h0M499.95 122h0M500.85 121.99h0M501.74 121.98h0M502.63 121.97h0M503.53 121.96h0M504.42 121.94h0M505.32 121.93h0M506.21 121.92h0M507.11 121.91h0M508 121.9h0M508.9 121.89h0M509.79 121.88h0M510.69 121.87h0M511.58 121.86h0M512.47 121.84h0M513.37 121.83h0M514.26 121.82h0M515.16 121.81h0M516.05 121.8h0M516.95 121.79h0M517.84 121.78h0M518.74 121.77h0M519.63 121.76h0M520.53 121.74h0M521.42 121.73h0M522.32 121.72h0M523.21 121.71h0M524.1 121.7h0M525 121.69h0M525.89 121.68h0M526.79 121.67h0M527.68 121.66h0M528.58 121.64h0M529.47 121.63h0M530.37 121.62h0M531.26 121.61h0M532.16 121.6h0M533.05 121.59h0M533.94 121.58h0M534.84 121.57h0M535.73 121.56h0M536.63 121.54h0M537.52 121.53h0M538.42 121.52h0M539.31 121.51h0M540.21 121.5h0M541.1 121.5h0M542 121.5h0M542.89 121.49h0M543.78 121.49h0M544.68 121.49h0M545.57 121.49h0M546.47 121.49h0M547.36 121.49h0M548.26 121.48h0M549.15 121.48h0M550.05 121.48h0M550.94 121.48h0M551.84 121.48h0M552.73 121.47h0M553.62 121.47h0M554.52 121.47h0M555.41 121.47h0M556.31 121.47h0M557.2 121.47h0M558.1 121.46h0M558.99 121.46h0M559.89 121.46h0M560.78 121.46h0M561.68 121.46h0M562.57 121.45h0M563.47 121.45h0M564.36 121.45h0M565.25 121.45h0M566.15 121.45h0M567.04 121.45h0M567.94 121.44h0M568.83 121.44h0M569.73 121.44h0M570.62 121.44h0M571.52 121.44h0M572.41 121.43h0M573.31 121.43h0M574.2 121.43h0M575.09 121.43h0M575.99 121.43h0M576.88 121.43h0M577.78 121.42h0M578.67 121.42h0M579.57 121.42h0M580.46 121.42h0M581.36 121.42h0M582.25 121.41h0M583.15 121.41h0M584.04 121.41h0M584.93 121.41h0M585.83 121.41h0M586.72 121.41h0M587.62 121.4h0M588.51 121.4h0M589.41 121.4h0" fill="none" stroke="#2ca02c" stroke-width="5.56" stroke-linecap="round"/><path d="M197.3 269.33 201.2 269.33M210.6 257.36 213.2 253.5 214.9 253.5M216.4 262.33 219.2 262.33 219.8 281.3 225.1 281.3M246.4 269.33 250.3 269.33M291.5 281.3 294.2 281.3M320.7 262.33 321.6 281.3 323.4 281.3M431.5 262.33 432.4 269.33 433.3 269.33 434.2 281.3 435.1 269.33 436 269.33 436.9 269.33 437.8 262.33 438.7 269.33 439.6 269.33 440.5 257.36 441.4 269.33 442.3 281.3M446.8 262.33 447.7 262.33 448.6 262.33 449.5 269.33 450.4 281.3 451.3 269.33 452.2 262.33 453.1 269.33 454 269.33 454.9 269.33M470.2 281.3 476.3 281.3 477.3 262.33 478.2 281.3 480 281.3 483.6 281.3M581.3 281.3 584.8 281.3 588.3 281.3" fill="none" stroke="#800080" stroke-width="2.08" stroke-linejoin="round" stroke-linecap="square"/><path d="M190.2 257.36h0M197.3 269.33h0M201.2 269.33h0M210.6 257.36h0M213.2 253.5h0M214.9 253.5h0M216.4 262.33h0M219.2 262.33h0M219.8 281.3h0M225.1 281.3h0M221.4 269.33h0M231.4 269.33h0M243 262.33h0M246.4 269.33h0M250.3 269.33h0M255.5 281.3h0M262.5 281.3h0M291.5 281.3h0M294.2 281.3h0M315.6 281.3h0M320.7 262.33h0M321.6 281.3h0M323.4 281.3h0M334.4 281.3h0M339.5 269.33h0M342.2 281.3h0M360.1 281.3h0M363.8 281.3h0M371.1 281.3h0M394.1 281.3h0M412.8 281.3h0M427.3 269.33h0M431.5 262.33h0M432.4 269.33h0M433.3 269.33h0M434.2 281.3h0M435.1 269.33h0M436 269.33h0M436.9 269.33h0M437.8 262.33h0M438.7 269.33h0M439.6 269.33h0M440.5 257.36h0M441.4 269.33h0M442.3 281.3h0M446.8 262.33h0M447.7 262.33h0M448.6 262.33h0M449.5 269.33h0M450.4 281.3h0M451.3 269.33h0M452.2 262.33h0M453.1 269.33h0M454 269.33h0M454.9 269.33h0M459 281.3h0M463.3 269.33h0M470.2 281.3h0M476.3 281.3h0M477.3 262.33h0M478.2 281.3h0M480 281.3h0M483.6 281.3h0M503.3 281.3h0M556.7 281.3h0M581.3 281.3h0M584.8 281.3h0M588.3 281.3h0" fill="none" stroke="#800080" stroke-width="5.56" stroke-linecap="round"/><path d="M88.45 108.7H615.35" stroke="#ffa500" stroke-width="2.08" stroke-dasharray="7.71 3.33" fill="none"/></g><g stroke="#000" stroke-width="1.11"><path d="M88.45 394.25v4.86"/><path d="M89.34 394.25v4.86"/><path d="M90.24 394.25v4.86"/><path d="M91.13 394.25v4.86"/><path d="M92.03 394.25v4.86"/><path d="M92.92 394.25v4.86"/><path d="M93.82 394.25v4.86"/><path d="M94.71 394.25v4.86"/><path d="M95.61 394.25v4.86"/><path d="M96.5 394.25v4.86"/><path d="M97.4 394.25v4.86"/><path d="M98.29 394.25v4.86"/><path d="M99.18 394.25v4.86"/><path d="M100.08 394.25v4.86"/><path d="M100.97 394.25v4.86"/><path d="M101.87 394.25v4.86"/><path d="M102.76 394.25v4.86"/><path d="M103.66 394.25v4.86"/><path d="M104.55 394.25v4.86"/><path d="M105.45 394.25v4.86"/><path d="M106.34 394.25v4.86"/><path d="M107.24 394.25v4.86"/><path d="M108.13 394.25v4.86"/><path d="M109.03 394.25v4.86"/><path d="M109.92 394.25v4.86"/><path d="M110.81 394.25v4.86"/><path d="M111.71 394.25v4.86"/><path d="M112.6 394.25v4.86"/><path d="M113.5 394.25v4.86"/><path d="M114.39 394.25v4.86"/><path d="M115.29 394.25v4.86"/><path d="M116.18 394.25v4.86"/><path d="M117.08 394.25v4.86"/><path d="M117.97 394.25v4.86"/><path d="M118.87 394.25v4.86"/><path d="M119.76 394.25v4.86"/><path d="M120.65 394.25v4.86"/><path d="M121.55 394.25v4.86"/><path d="M122.44 394.25v4.86"/><path d="M123.34 394.25v4.86"/><path d="M124.23 394.25v4.86"/><path d="M125.13 394.25v4.86"/><path d="M126.02 394.25v4.86"/><path d="M126.92 394.25v4.86"/><path d="M127.81 394.25v4.86"/><path d="M128.71 394.25v4.86"/><path d="M129.6 394.25v4.86"/><path d="M130.49 394.25v4.86"/><path d="M131.39 394.25v4.86"/><path d="M132.28 394.25v4.86"/><path d="M133.18 394.25v4.86"/><path d="M134.07 394.25v4.86"/><path d="M134.97 394.25v4.86"/><path d="M135.86 394.25v4.86"/><path d="M136.76 394.25v4.86"/><path d="M137.65 394.25v4.86"/><path d="M138.55 394.25v4.86"/><path d="M139.44 394.25v4.86"/><path d="M140.33 394.25v4.86"/><path d="M141.23 394.25v4.86"/><path d="M142.12 394.25v4.86"/><path d="M143.02 394.25v4.86"/><path d="M143.91 394.25v4.86"/><path d="M144.81 394.25v4.86"/><path d="M145.7 394.25v4.86"/><path d="M146.6 394.25v4.86"/><path d="M147.49 394.25v4.86"/><path d="M148.39 394.25v4.86"/><path d="M149.28 394.25v4.86"/><path d="M150.18 394.25v4.86"/><path d="M151.07 394.25v4.86"/><path d="M151.96 394.25v4.86"/><path d="M152.86 394.25v4.86"/><path d="M153.75 394.25v4.86"/><path d="M154.65 394.25v4.86"/><path d="M155.54 394.25v4.86"/><path d="M156.44 394.25v4.86"/><path d="M157.33 394.25v4.86"/><path d="M158.23 394.25v4.86"/><path d="M159.12 394.25v4.86"/><path d="M160.02 394.25v4.86"/><path d="M160.91 394.25v4.86"/><path d="M161.8 394.25v4.86"/><path d="M162.7 394.25v4.86"/><path d="M163.59 394.25v4.86"/><path d="M164.49 394.25v4.86"/><path d="M165.38 394.25v4.86"/><path d="M166.28 394.25v4.86"/><path d="M167.17 394.25v4.86"/><path d="M168.07 394.25v4.86"/><path d="M168.96 394.25v4.86"/><path d="M169.86 394.25v4.86"/><path d="M170.75 394.25v4.86"/><path d="M171.64 394.25v4.86"/><path d="M172.54 394.25v4.86"/><path d="M173.43 394.25v4.86"/><path d="M174.33 394.25v4.86"/><path d="M175.22 394.25v4.86"/><path d="M176.12 394.25v4.86"/><path d="M177.01 394.25v4.86"/><path d="M177.91 394.25v4.86"/><path d="M178.8 394.25v4.86"/><path d="M179.7 394.25v4.86"/><path d="M180.59 394.25v4.86"/><path d="M181.48 394.25v4.86"/><path d="M182.38 394.25v4.86"/><path d="M183.27 394.25v4.86"/><path d="M184.17 394.25v4.86"/><path d="M185.06 394.25v4.86"/><path d="M185.96 394.25v4.86"/><path d="M186.85 394.25v4.86"/><path d="M187.75 394.25v4.86"/><path d="M188.64 394.25v4.86"/><path d="M189.54 394.25v4.86"/><path d="M190.43 394.25v4.86"/><path d="M191.33 394.25v4.86"/><path d="M192.22 394.25v4.86"/><path d="M193.11 394.25v4.86"/><path d="M194.01 394.25v4.86"/><path d="M194.9 394.25v4.86"/><path d="M195.8 394.25v4.86"/><path d="M196.69 394.25v4.86"/><path d="M197.59 394.25v4.86"/><path d="M198.48 394.25v4.86"/><path d="M199.38 394.25v4.86"/><path d="M200.27 394.25v4.86"/><path d="M201.17 394.25v4.86"/><path d="M202.06 394.25v4.86"/><path d="M202.95 394.25v4.86"/><path d="M203.85 394.25v4.86"/><path d="M204.74 394.25v4.86"/><path d="M205.64 394.25v4.86"/><path d="M206.53 394.25v4.86"/><path d="M207.43 394.25v4.86"/><path d="M208.32 394.25v4.86"/><path d="M209.22 394.25v4.86"/><path d="M210.11 394.25v4.86"/><path d="M211.01 394.25v4.86"/><path d="M211.9 394.25v4.86"/><path d="M212.79 394.25v4.86"/><path d="M213.69 394.25v4.86"/><path d="M214.58 394.25v4.86"/><path d="M215.48 394.25v4.86"/><path d="M216.37 394.25v4.86"/><path d="M217.27 394.25v4.86"/><path d="M218.16 394.25v4.86"/><path d="M219.06 394.25v4.86"/><path d="M219.95 394.25v4.86"/><path d="M220.85 394.25v4.86"/><path d="M221.74 394.25v4.86"/><path d="M222.64 394.25v4.86"/><path d="M223.53 394.25v4.86"/><path d="M224.42 394.25v4.86"/><path d="M225.32 394.25v4.86"/><path d="M226.21 394.25v4.86"/><path d="M227.11 394.25v4.86"/><path d="M228 394.25v4.86"/><path d="M228.9 394.25v4.86"/><path d="M229.79 394.25v4.86"/><path d="M230.69 394.25v4.86"/><path d="M231.58 394.25v4.86"/><path d="M232.48 394.25v4.86"/><path d="M233.37 394.25v4.86"/><path d="M234.26 394.25v4.86"/><path d="M235.16 394.25v4.86"/><path d="M236.05 394.25v4.86"/><path d="M236.95 394.25v4.86"/><path d="M237.84 394.25v4.86"/><path d="M238.74 394.25v4.86"/><path d="M239.63 394.25v4.86"/><path d="M240.53 394.25v4.86"/><path d="M241.42 394.25v4.86"/><path d="M242.32 394.25v4.86"/><path d="M243.21 394.25v4.86"/><path d="M244.1 394.25v4.86"/><path d="M245 394.25v4.86"/><path d="M245.89 394.25v4.86"/><path d="M246.79 394.25v4.86"/><path d="M247.68 394.25v4.86"/><path d="M248.58 394.25v4.86"/><path d="M249.47 394.25v4.86"/><path d="M250.37 394.25v4.86"/><path d="M251.26 394.25v4.86"/><path d="M252.16 394.25v4.86"/><path d="M253.05 394.25v4.86"/><path d="M253.94 394.25v4.86"/><path d="M254.84 394.25v4.86"/><path d="M255.73 394.25v4.86"/><path d="M256.63 394.25v4.86"/><path d="M257.52 394.25v4.86"/><path d="M258.42 394.25v4.86"/><path d="M259.31 394.25v4.86"/><path d="M260.21 394.25v4.86"/><path d="M261.1 394.25v4.86"/><path d="M262 394.25v4.86"/><path d="M262.89 394.25v4.86"/><path d="M263.79 394.25v4.86"/><path d="M264.68 394.25v4.86"/><path d="M265.57 394.25v4.86"/><path d="M266.47 394.25v4.86"/><path d="M267.36 394.25v4.86"/><path d="M268.26 394.25v4.86"/><path d="M269.15 394.25v4.86"/><path d="M270.05 394.25v4.86"/><path d="M270.94 394.25v4.86"/><path d="M271.84 394.25v4.86"/><path d="M272.73 394.25v4.86"/><path d="M273.63 394.25v4.86"/><path d="M274.52 394.25v4.86"/><path d="M275.41 394.25v4.86"/><path d="M276.31 394.25v4.86"/><path d="M277.2 394.25v4.86"/><path d="M278.1 394.25v4.86"/><path d="M278.99 394.25v4.86"/><path d="M279.89 394.25v4.86"/><path d="M280.78 394.25v4.86"/><path d="M281.68 394.25v4.86"/><path d="M282.57 394.25v4.86"/><path d="M283.47 394.25v4.86"/><path d="M284.36 394.25v4.86"/><path d="M285.25 394.25v4.86"/><path d="M286.15 394.25v4.86"/><path d="M287.04 394.25v4.86"/><path d="M287.94 394.25v4.86"/><path d="M288.83 394.25v4.86"/><path d="M289.73 394.25v4.86"/><path d="M290.62 394.25v4.86"/><path d="M291.52 394.25v4.86"/><path d="M292.41 394.25v4.86"/><path d="M293.31 394.25v4.86"/><path d="M294.2 394.25v4.86"/><path d="M295.09 394.25v4.86"/><path d="M295.99 394.25v4.86"/><path d="M296.88 394.25v4.86"/><path d="M297.78 394.25v4.86"/><path d="M298.67 394.25v4.86"/><path d="M299.57 394.25v4.86"/><path d="M300.46 394.25v4.86"/><path d="M301.36 394.25v4.86"/><path d="M302.25 394.25v4.86"/><path d="M303.15 394.25v4.86"/><path d="M304.04 394.25v4.86"/><path d="M304.94 394.25v4.86"/><path d="M305.83 394.25v4.86"/><path d="M306.72 394.25v4.86"/><path d="M307.62 394.25v4.86"/><path d="M308.51 394.25v4.86"/><path d="M309.41 394.25v4.86"/><path d="M310.3 394.25v4.86"/><path d="M311.2 394.25v4.86"/><path d="M312.09 394.25v4.86"/><path d="M312.99 394.25v4.86"/><path d="M313.88 394.25v4.86"/><path d="M314.78 394.25v4.86"/><path d="M315.67 394.25v4.86"/><path d="M316.56 394.25v4.86"/><path d="M317.46 394.25v4.86"/><path d="M318.35 394.25v4.86"/><path d="M319.25 394.25v4.86"/><path d="M320.14 394.25v4.86"/><path d="M321.04 394.25v4.86"/><path d="M321.93 394.25v4.86"/><path d="M322.83 394.25v4.86"/><path d="M323.72 394.25v4.86"/><path d="M324.62 394.25v4.86"/><path d="M325.51 394.25v4.86"/><path d="M326.4 394.25v4.86"/><path d="M327.3 394.25v4.86"/><path d="M328.19 394.25v4.86"/><path d="M329.09 394.25v4.86"/><path d="M329.98 394.25v4.86"/><path d="M330.88 394.25v4.86"/><path d="M331.77 394.25v4.86"/><path d="M332.67 394.25v4.86"/><path d="M333.56 394.25v4.86"/><path d="M334.46 394.25v4.86"/><path d="M335.35 394.25v4.86"/><path d="M336.25 394.25v4.86"/><path d="M337.14 394.25v4.86"/><path d="M338.03 394.25v4.86"/><path d="M338.93 394.25v4.86"/><path d="M339.82 394.25v4.86"/><path d="M340.72 394.25v4.86"/><path d="M341.61 394.25v4.86"/><path d="M342.51 394.25v4.86"/><path d="M343.4 394.25v4.86"/><path d="M344.3 394.25v4.86"/><path d="M345.19 394.25v4.86"/><path d="M346.09 394.25v4.86"/><path d="M346.98 394.25v4.86"/><path d="M347.87 394.25v4.86"/><path d="M348.77 394.25v4.86"/><path d="M349.66 394.25v4.86"/><path d="M350.56 394.25v4.86"/><path d="M351.45 394.25v4.86"/><path d="M352.35 394.25v4.86"/><path d="M353.24 394.25v4.86"/><path d="M354.14 394.25v4.86"/><path d="M355.03 394.25v4.86"/><path d="M355.93 394.25v4.86"/><path d="M356.82 394.25v4.86"/><path d="M357.71 394.25v4.86"/><path d="M358.61 394.25v4.86"/><path d="M359.5 394.25v4.86"/><path d="M360.4 394.25v4.86"/><path d="M361.29 394.25v4.86"/><path d="M362.19 394.25v4.86"/><path d="M363.08 394.25v4.86"/><path d="M363.98 394.25v4.86"/><path d="M364.87 394.25v4.86"/><path d="M365.77 394.25v4.86"/><path d="M366.66 394.25v4.86"/><path d="M367.55 394.25v4.86"/><path d="M368.45 394.25v4.86"/><path d="M369.34 394.25v4.86"/><path d="M370.24 394.25v4.86"/><path d="M371.13 394.25v4.86"/><path d="M372.03 394.25v4.86"/><path d="M372.92 394.25v4.86"/><path d="M373.82 394.25v4.86"/><path d="M374.71 394.25v4.86"/><path d="M375.61 394.25v4.86"/><path d="M376.5 394.25v4.86"/><path d="M377.4 394.25v4.86"/><path d="M378.29 394.25v4.86"/><path d="M379.18 394.25v4.86"/><path d="M380.08 394.25v4.86"/><path d="M380.97 394.25v4.86"/><path d="M381.87 394.25v4.86"/><path d="M382.76 394.25v4.86"/><path d="M383.66 394.25v4.86"/><path d="M384.55 394.25v4.86"/><path d="M385.45 394.25v4.86"/><path d="M386.34 394.25v4.86"/><path d="M387.24 394.25v4.86"/><path d="M388.13 394.25v4.86"/><path d="M389.02 394.25v4.86"/><path d="M389.92 394.25v4.86"/><path d="M390.81 394.25v4.86"/><path d="M391.71 394.25v4.86"/><path d="M392.6 394.25v4.86"/><path d="M393.5 394.25v4.86"/><path d="M394.39 394.25v4.86"/><path d="M395.29 394.25v4.86"/><path d="M396.18 394.25v4.86"/><path d="M397.08 394.25v4.86"/><path d="M397.97 394.25v4.86"/><path d="M398.86 394.25v4.86"/><path d="M399.76 394.25v4.86"/><path d="M400.65 394.25v4.86"/><path d="M401.55 394.25v4.86"/><path d="M402.44 394.25v4.86"/><path d="M403.34 394.25v4.86"/><path d="M404.23 394.25v4.86"/><path d="M405.13 394.25v4.86"/><path d="M406.02 394.25v4.86"/><path d="M406.92 394.25v4.86"/><path d="M407.81 394.25v4.86"/><path d="M408.71 394.25v4.86"/><path d="M409.6 394.25v4.86"/><path d="M410.49 394.25v4.86"/><path d="M411.39 394.25v4.86"/><path d="M412.28 394.25v4.86"/><path d="M413.18 394.25v4.86"/><path d="M414.07 394.25v4.86"/><path d="M414.97 394.25v4.86"/><path d="M415.86 394.25v4.86"/><path d="M416.76 394.25v4.86"/><path d="M417.65 394.25v4.86"/><path d="M418.55 394.25v4.86"/><path d="M419.44 394.25v4.86"/><path d="M420.33 394.25v4.86"/><path d="M421.23 394.25v4.86"/><path d="M422.12 394.25v4.86"/><path d="M423.02 394.25v4.86"/><path d="M423.91 394.25v4.86"/><path d="M424.81 394.25v4.86"/><path d="M425.7 394.25v4.86"/><path d="M426.6 394.25v4.86"/><path d="M427.49 394.25v4.86"/><path d="M428.39 394.25v4.86"/><path d="M429.28 394.25v4.86"/><path d="M430.17 394.25v4.86"/><path d="M431.07 394.25v4.86"/><path d="M431.96 394.25v4.86"/><path d="M432.86 394.25v4.86"/><path d="M433.75 394.25v4.86"/><path d="M434.65 394.25v4.86"/><path d="M435.54 394.25v4.86"/><path d="M436.44 394.25v4.86"/><path d="M437.33 394.25v4.86"/><path d="M438.23 394.25v4.86"/><path d="M439.12 394.25v4.86"/><path d="M440.01 394.25v4.86"/><path d="M440.91 394.25v4.86"/><path d="M441.8 394.25v4.86"/><path d="M442.7 394.25v4.86"/><path d="M443.59 394.25v4.86"/><path d="M444.49 394.25v4.86"/><path d="M445.38 394.25v4.86"/><path d="M446.28 394.25v4.86"/><path d="M447.17 394.25v4.86"/><path d="M448.07 394.25v4.86"/><path d="M448.96 394.25v4.86"/><path d="M449.86 394.25v4.86"/><path d="M450.75 394.25v4.86"/><path d="M451.64 394.25v4.86"/><path d="M452.54 394.25v4.86"/><path d="M453.43 394.25v4.86"/><path d="M454.33 394.25v4.86"/><path d="M455.22 394.25v4.86"/><path d="M456.12 394.25v4.86"/><path d="M457.01 394.25v4.86"/><path d="M457.91 394.25v4.86"/><path d="M458.8 394.25v4.86"/><path d="M459.7 394.25v4.86"/><path d="M460.59 394.25v4.86"/><path d="M461.48 394.25v4.86"/><path d="M462.38 394.25v4.86"/><path d="M463.27 394.25v4.86"/><path d="M464.17 394.25v4.86"/><path d="M465.06 394.25v4.86"/><path d="M465.96 394.25v4.86"/><path d="M466.85 394.25v4.86"/><path d="M467.75 394.25v4.86"/><path d="M468.64 394.25v4.86"/><path d="M469.54 394.25v4.86"/><path d="M470.43 394.25v4.86"/><path d="M471.32 394.25v4.86"/><path d="M472.22 394.25v4.86"/><path d="M473.11 394.25v4.86"/><path d="M474.01 394.25v4.86"/><path d="M474.9 394.25v4.86"/><path d="M475.8 394.25v4.86"/><path d="M476.69 394.25v4.86"/><path d="M477.59 394.25v4.86"/><path d="M478.48 394.25v4.86"/><path d="M479.38 394.25v4.86"/><path d="M480.27 394.25v4.86"/><path d="M481.16 394.25v4.86"/><path d="M482.06 394.25v4.86"/><path d="M482.95 394.25v4.86"/><path d="M483.85 394.25v4.86"/><path d="M484.74 394.25v4.86"/><path d="M485.64 394.25v4.86"/><path d="M486.53 394.25v4.86"/><path d="M487.43 394.25v4.86"/><path d="M488.32 394.25v4.86"/><path d="M489.22 394.25v4.86"/><path d="M490.11 394.25v4.86"/><path d="M491.01 394.25v4.86"/><path d="M491.9 394.25v4.86"/><path d="M492.79 394.25v4.86"/><path d="M493.69 394.25v4.86"/><path d="M494.58 394.25v4.86"/><path d="M495.48 394.25v4.86"/><path d="M496.37 394.25v4.86"/><path d="M497.27 394.25v4.86"/><path d="M498.16 394.25v4.86"/><path d="M499.06 394.25v4.86"/><path d="M499.95 394.25v4.86"/><path d="M500.85 394.25v4.86"/><path d="M501.74 394.25v4.86"/><path d="M502.63 394.25v4.86"/><path d="M503.53 394.25v4.86"/><path d="M504.42 394.25v4.86"/><path d="M505.32 394.25v4.86"/><path d="M506.21 394.25v4.86"/><path d="M507.11 394.25v4.86"/><path d="M508 394.25v4.86"/><path d="M508.9 394.25v4.86"/><path d="M509.79 394.25v4.86"/><path d="M510.69 394.25v4.86"/><path d="M511.58 394.25v4.86"/><path d="M512.47 394.25v4.86"/><path d="M513.37 394.25v4.86"/><path d="M514.26 394.25v4.86"/><path d="M515.16 394.25v4.86"/><path d="M516.05 394.25v4.86"/><path d="M516.95 394.25v4.86"/><path d="M517.84 394.25v4.86"/><path d="M518.74 394.25v4.86"/><path d="M519.63 394.25v4.86"/><path d="M520.53 394.25v4.86"/><path d="M521.42 394.25v4.86"/><path d="M522.32 394.25v4.86"/><path d="M523.21 394.25v4.86"/><path d="M524.1 394.25v4.86"/><path d="M525 394.25v4.86"/><path d="M525.89 394.25v4.86"/><path d="M526.79 394.25v4.86"/><path d="M527.68 394.25v4.86"/><path d="M528.58 394.25v4.86"/><path d="M529.47 394.25v4.86"/><path d="M530.37 394.25v4.86"/><path d="M531.26 394.25v4.86"/><path d="M532.16 394.25v4.86"/><path d="M533.05 394.25v4.86"/><path d="M533.94 394.25v4.86"/><path d="M534.84 394.25v4.86"/><path d="M535.73 394.25v4.86"/><path d="M536.63 394.25v4.86"/><path d="M537.52 394.25v4.86"/><path d="M538.42 394.25v4.86"/><path d="M539.31 394.25v4.86"/><path d="M540.21 394.25v4.86"/><path d="M541.1 394.25v4.86"/><path d="M542 394.25v4.86"/><path d="M542.89 394.25v4.86"/><path d="M543.78 394.25v4.86"/><path d="M544.68 394.25v4.86"/><path d="M545.57 394.25v4.86"/><path d="M546.47 394.25v4.86"/><path d="M547.36 394.25v4.86"/><path d="M548.26 394.25v4.86"/><path d="M549.15 394.25v4.86"/><path d="M550.05 394.25v4.86"/><path d="M550.94 394.25v4.86"/><path d="M551.84 394.25v4.86"/><path d="M552.73 394.25v4.86"/><path d="M553.62 394.25v4.86"/><path d="M554.52 394.25v4.86"/><path d="M555.41 394.25v4.86"/><path d="M556.31 394.25v4.86"/><path d="M557.2 394.25v4.86"/><path d="M558.1 394.25v4.86"/><path d="M558.99 394.25v4.86"/><path d="M559.89 394.25v4.86"/><path d="M560.78 394.25v4.86"/><path d="M561.68 394.25v4.86"/><path d="M562.57 394.25v4.86"/><path d="M563.47 394.25v4.86"/><path d="M564.36 394.25v4.86"/><path d="M565.25 394.25v4.86"/><path d="M566.15 394.25v4.86"/><path d="M567.04 394.25v4.86"/><path d="M567.94 394.25v4.86"/><path d="M568.83 394.25v4.86"/><path d="M569.73 394.25v4.86"/><path d="M570.62 394.25v4.86"/><path d="M571.52 394.25v4.86"/><path d="M572.41 394.25v4.86"/><path d="M573.31 394.25v4.86"/><path d="M574.2 394.25v4.86"/><path d="M575.09 394.25v4.86"/><path d="M575.99 394.25v4.86"/><path d="M576.88 394.25v4.86"/><path d="M577.78 394.25v4.86"/><path d="M578.67 394.25v4.86"/><path d="M579.57 394.25v4.86"/><path d="M580.46 394.25v4.86"/><path d="M581.36 394.25v4.86"/><path d="M582.25 394.25v4.86"/><path d="M583.15 394.25v4.86"/><path d="M584.04 394.25v4.86"/><path d="M584.93 394.25v4.86"/><path d="M585.83 394.25v4.86"/><path d="M586.72 394.25v4.86"/><path d="M587.62 394.25v4.86"/><path d="M588.51 394.25v4.86"/><path d="M589.41 394.25v4.86"/><path d="M590.3 394.25v4.86"/><path d="M591.2 394.25v4.86"/><path d="M592.09 394.25v4.86"/><path d="M592.99 394.25v4.86"/><path d="M593.88 394.25v4.86"/><path d="M594.77 394.25v4.86"/><path d="M595.67 394.25v4.86"/><path d="M596.56 394.25v4.86"/><path d="M597.46 394.25v4.86"/><path d="M598.35 394.25v4.86"/><path d="M599.25 394.25v4.86"/><path d="M600.14 394.25v4.86"/><path d="M601.04 394.25v4.86"/><path d="M601.93 394.25v4.86"/><path d="M602.83 394.25v4.86"/><path d="M603.72 394.25v4.86"/><path d="M604.62 394.25v4.86"/><path d="M605.51 394.25v4.86"/><path d="M606.4 394.25v4.86"/><path d="M607.3 394.25v4.86"/><path d="M608.19 394.25v4.86"/><path d="M609.09 394.25v4.86"/><path d="M609.98 394.25v4.86"/><path d="M610.88 394.25v4.86"/><path d="M611.77 394.25v4.86"/><path d="M612.67 394.25v4.86"/><path d="M613.56 394.25v4.86"/><path d="M614.46 394.25v4.86"/></g><path d="M88.45 359.29h-4.86M88.45 319.52h-4.86M88.45 279.75h-4.86M88.45 239.98h-4.86M88.45 200.21h-4.86M88.45 160.44h-4.86M88.45 120.67h-4.86M88.45 80.9h-4.86" stroke="#000" stroke-width="1.11" fill="none"/><path d="M88.45 387.09h-2.78M88.45 380.08h-2.78M88.45 375.12h-2.78M88.45 371.26h-2.78M88.45 368.11h-2.78M88.45 365.45h-2.78M88.45 363.14h-2.78M88.45 361.11h-2.78M88.45 347.32h-2.78M88.45 340.31h-2.78M88.45 335.35h-2.78M88.45 331.49h-2.78M88.45 328.34h-2.78M88.45 325.68h-2.78M88.45 323.37h-2.78M88.45 321.34h-2.78M88.45 307.55h-2.78M88.45 300.54h-2.78M88.45 295.58h-2.78M88.45 291.72h-2.78M88.45 288.57h-2.78M88.45 285.91h-2.78M88.45 283.6h-2.78M88.45 281.57h-2.78M88.45 267.78h-2.78M88.45 260.77h-2.78M88.45 255.81h-2.78M88.45 251.95h-2.78M88.45 248.8h-2.78M88.45 246.14h-2.78M88.45 243.83h-2.78M88.45 241.8h-2.78M88.45 228.01h-2.78M88.45 221h-2.78M88.45 216.04h-2.78M88.45 212.18h-2.78M88.45 209.03h-2.78M88.45 206.37h-2.78M88.45 204.06h-2.78M88.45 202.03h-2.78M88.45 188.24h-2.78M88.45 181.23h-2.78M88.45 176.27h-2.78M88.45 172.41h-2.78M88.45 169.26h-2.78M88.45 166.6h-2.78M88.45 164.29h-2.78M88.45 162.26h-2.78M88.45 148.47h-2.78M88.45 141.46h-2.78M88.45 136.5h-2.78M88.45 132.64h-2.78M88.45 129.49h-2.78M88.45 126.83h-2.78M88.45 124.52h-2.78M88.45 122.49h-2.78M88.45 108.7h-2.78M88.45 101.69h-2.78M88.45 96.73h-2.78M88.45 92.87h-2.78M88.45 89.72h-2.78M88.45 87.06h-2.78M88.45 84.75h-2.78M88.45 82.72h-2.78M88.45 68.93h-2.78M88.45 61.92h-2.78M88.45 56.96h-2.78M88.45 53.1h-2.78M88.45 49.95h-2.78M88.45 47.29h-2.78M88.45 44.98h-2.78M88.45 42.95h-2.78" stroke="#000" stroke-width="0.83" fill="none"/><rect x="88.45" y="41.46" width="526.9" height="352.79" fill="none" stroke="#000" stroke-width="1.11" stroke-linejoin="miter"/><text x="0" y="0" font-size="16.67" letter-spacing="0.3" transform="translate(93.3 501.8) rotate(-90)">2020-01-22</text><text x="0" y="0" font-size="16.67" letter-spacing="0.3" transform="translate(137.13 501.8) rotate(-90)">2020-03-11</text><text x="0" y="0" font-size="16.67" letter-spacing="0.3" transform="translate(180.97 501.8) rotate(-90)">2020-04-29</text><text x="0" y="0" font-size="16.67" letter-spacing="0.3" transform="translate(224.8 501.8) rotate(-90)">2020-06-17</text><text x="0" y="0" font-size="16.67" letter-spacing="0.3" transform="translate(268.64 501.8) rotate(-90)">2020-08-05</text><text x="0" y="0" font-size="16.67" letter-spacing="0.3" transform="translate(312.47 501.8) rotate(-90)">2020-09-23</text><text x="0" y="0" font-size="16.67" letter-spacing="0.3" transform="translate(356.3 501.8) rotate(-90)">2020-11-11</text><text x="0" y="0" font-size="16.67" letter-spacing="0.3" transform="translate(400.14 501.8) rotate(-90)">2020-12-30</text><text x="0" y="0" font-size="16.67" letter-spacing="0.3" transform="translate(443.97 501.8) rotate(-90)">2021-02-17</text><text x="0" y="0" font-size="16.67" letter-spacing="0.3" transform="translate(487.8 501.8) rotate(-90)">2021-04-07</text><text x="0" y="0" font-size="16.67" letter-spacing="0.3" transform="translate(531.64 501.8) rotate(-90)">2021-05-26</text><text x="0" y="0" font-size="16.67" letter-spacing="0.3" transform="translate(575.47 501.8) rotate(-90)">2021-07-14</text><text x="0" y="0" font-size="16.67" letter-spacing="0.3" transform="translate(619.31 501.8) rotate(-90)">2021-09-01</text><text x="77.53" y="366.19" font-size="16.67" text-anchor="end">10<tspan font-size="11.67" dx="-0.8" dy="-7.25" letter-spacing="0.4">−9</tspan></text><text x="77.53" y="326.42" font-size="16.67" text-anchor="end">10<tspan font-size="11.67" dx="-0.8" dy="-7.25" letter-spacing="0.4">−8</tspan></text><text x="77.53" y="286.65" font-size="16.67" text-anchor="end">10<tspan font-size="11.67" dx="-0.8" dy="-7.25" letter-spacing="0.4">−7</tspan></text><text x="77.53" y="246.88" font-size="16.67" text-anchor="end">10<tspan font-size="11.67" dx="-0.8" dy="-7.25" letter-spacing="0.4">−6</tspan></text><text x="77.53" y="207.11" font-size="16.67" text-anchor="end">10<tspan font-size="11.67" dx="-0.8" dy="-7.25" letter-spacing="0.4">−5</tspan></text><text x="77.53" y="167.34" font-size="16.67" text-anchor="end">10<tspan font-size="11.67" dx="-0.8" dy="-7.25" letter-spacing="0.4">−4</tspan></text><text x="77.53" y="127.57" font-size="16.67" text-anchor="end">10<tspan font-size="11.67" dx="-0.8" dy="-7.25" letter-spacing="0.4">−3</tspan></text><text x="77.53" y="87.8" font-size="16.67" text-anchor="end">10<tspan font-size="11.67" dx="-0.8" dy="-7.25" letter-spacing="0.4">−2</tspan></text><text x="352.95" y="32.9" font-size="20" letter-spacing="0.23" text-anchor="middle">South Sudan</text><text x="0" y="0" font-size="16.67" letter-spacing="0.13" text-anchor="middle" transform="translate(29.5 216.8) rotate(-90)">Fraction of Population [Log scale]</text><rect x="96.7" y="49.8" width="157.7" height="101.2" rx="3.33" fill="#fff" fill-opacity="0.8" stroke="#ccc" stroke-opacity="0.8" stroke-width="1.39"/><path d="M102.9 61.9H136.9" stroke="#1f77b4" stroke-width="2.08" stroke-linecap="square" fill="none"/><circle cx="119.9" cy="61.9" r="2.78" fill="#1f77b4"/><text x="150.2" y="67.9" font-size="16.67" letter-spacing="0.1">Confirmed</text><path d="M102.9 80.8H136.9" stroke="#ff7f0e" stroke-width="2.08" stroke-linecap="square" fill="none"/><circle cx="119.9" cy="80.8" r="2.78" fill="#ff7f0e"/><text x="150.2" y="86.8" font-size="16.67" letter-spacing="0.1">Deaths</text><path d="M102.9 99.1H136.9" stroke="#2ca02c" stroke-width="2.08" stroke-linecap="square" fill="none"/><circle cx="119.9" cy="99.1" r="2.78" fill="#2ca02c"/><text x="150.2" y="105.1" font-size="16.67" letter-spacing="0.1">Recovered</text><path d="M102.9 117.3H136.9" stroke="#800080" stroke-width="2.08" stroke-linecap="square" fill="none"/><circle cx="119.9" cy="117.3" r="2.78" fill="#800080"/><text x="150.2" y="123.3" font-size="16.67" letter-spacing="0.1">Deaths/Day</text><path d="M102.9 135.6H136.9" stroke="#ffa500" stroke-width="2.08" stroke-dasharray="7.71 3.33" fill="none"/><text x="150.2" y="141.6" font-size="16.67" letter-spacing="0.1">Projection</text></svg></body></html>
